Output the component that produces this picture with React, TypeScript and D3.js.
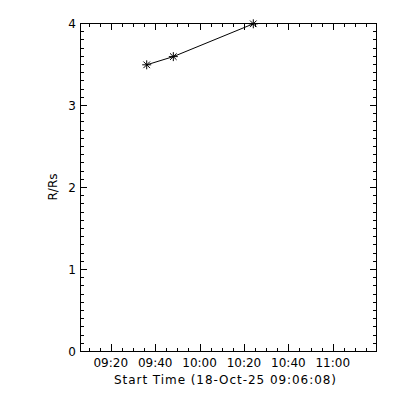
import React from "react";
import * as d3 from "d3";

const startTime = "09:06:08";
const axisSpanSeconds = 8000;
const pointTimes = ["09:36:11", "09:48:10", "10:24:12"];
const pointValues = [3.49, 3.59, 3.99];
const xTickLabels = ["09:20", "09:40", "10:00", "10:20", "10:40", "11:00"];
const xMinorStepSeconds = 300;
const yTickValues = [0, 1, 2, 3, 4];
const yMinorStep = 0.1;
const xTitle = "Start Time (18-Oct-25 09:06:08)";
const yTitle = "R/Rs";

const toSec = (s: string) => {
  const p = s.split(":").map(Number);
  return p[0] * 3600 + p[1] * 60 + (p[2] || 0);
};

const W = 400;
const H = 400;
const L = 80;
const R = 376;
const T = 23;
const B = 351;
const FONT = "'DejaVu Sans', sans-serif";

export default function App() {
  const t0 = toSec(startTime);
  const x = d3.scaleLinear().domain([0, axisSpanSeconds]).range([L, R]);
  const y = d3.scaleLinear().domain([0, 4]).range([B, T]);

  const majorX = xTickLabels.map((l) => ({ label: l, v: toSec(l) - t0 }));
  const minorX: number[] = [];
  const firstMinor = Math.ceil(t0 / xMinorStepSeconds) * xMinorStepSeconds - t0;
  for (let v = firstMinor; v <= axisSpanSeconds; v += xMinorStepSeconds) minorX.push(v);
  const minorY = d3.range(0, 4.0001, yMinorStep);

  const pts = pointTimes.map((t, i) => [x(toSec(t) - t0), y(pointValues[i])] as [number, number]);
  const line = d3.line<[number, number]>().x((d) => d[0]).y((d) => d[1]);

  const px = (v: number) => Math.round(v) + 0.5;
  const star = (cx: number, cy: number, k: number) => {
    const r = 4.5;
    const d = 3.3;
    return (
      <g key={k} stroke="#000" strokeWidth={1}>
        <line x1={cx - r} y1={cy} x2={cx + r} y2={cy} />
        <line x1={cx} y1={cy - r} x2={cx} y2={cy + r} />
        <line x1={cx - d} y1={cy - d} x2={cx + d} y2={cy + d} />
        <line x1={cx - d} y1={cy + d} x2={cx + d} y2={cy - d} />
      </g>
    );
  };

  return (
    <svg width={W} height={H} style={{ position: "absolute", left: 0, top: 0, background: "#fff" }}>
      <rect x={0} y={0} width={W} height={H} fill="#fff" />
      <g stroke="#000" strokeWidth={1} shapeRendering="crispEdges">
        <rect x={L + 0.5} y={T + 0.5} width={R - L} height={B - T} fill="none" />
        {minorX.map((v, i) => (
          <g key={"mx" + i}>
            <line x1={px(x(v))} x2={px(x(v))} y1={B} y2={B - 3.5} />
            <line x1={px(x(v))} x2={px(x(v))} y1={T} y2={T + 3.5} />
          </g>
        ))}
        {majorX.map((d, i) => (
          <g key={"Mx" + i}>
            <line x1={px(x(d.v))} x2={px(x(d.v))} y1={B} y2={B - 7} />
            <line x1={px(x(d.v))} x2={px(x(d.v))} y1={T} y2={T + 7} />
          </g>
        ))}
        {minorY.map((v, i) => (
          <g key={"my" + i}>
            <line x1={L} x2={L + 3.5} y1={px(y(v))} y2={px(y(v))} />
            <line x1={R} x2={R - 3.5} y1={px(y(v))} y2={px(y(v))} />
          </g>
        ))}
        {yTickValues.map((v, i) => (
          <g key={"My" + i}>
            <line x1={L} x2={L + 6.5} y1={px(y(v))} y2={px(y(v))} />
            <line x1={R} x2={R - 6.5} y1={px(y(v))} y2={px(y(v))} />
          </g>
        ))}
      </g>
      <g fontFamily={FONT} fontSize={12} fill="#000">
        {majorX.map((d, i) => (
          <text key={"lx" + i} x={x(d.v)} y={367} textAnchor="middle">
            {d.label}
          </text>
        ))}
        {yTickValues.map((v, i) => (
          <text key={"ly" + i} x={76} y={y(v) + 5} textAnchor="end">
            {v}
          </text>
        ))}
        <text x={(L + R) / 2 - 3} y={384} textAnchor="middle" textLength={222} lengthAdjust="spacing">
          {xTitle}
        </text>
        <text transform={`translate(57,${(T + B) / 2}) rotate(-90)`} textAnchor="middle">
          {yTitle}
        </text>
      </g>
      <path d={line(pts) || ""} fill="none" stroke="#000" strokeWidth={1} />
      {pts.map((p, i) => star(p[0], p[1], i))}
    </svg>
  );
}
